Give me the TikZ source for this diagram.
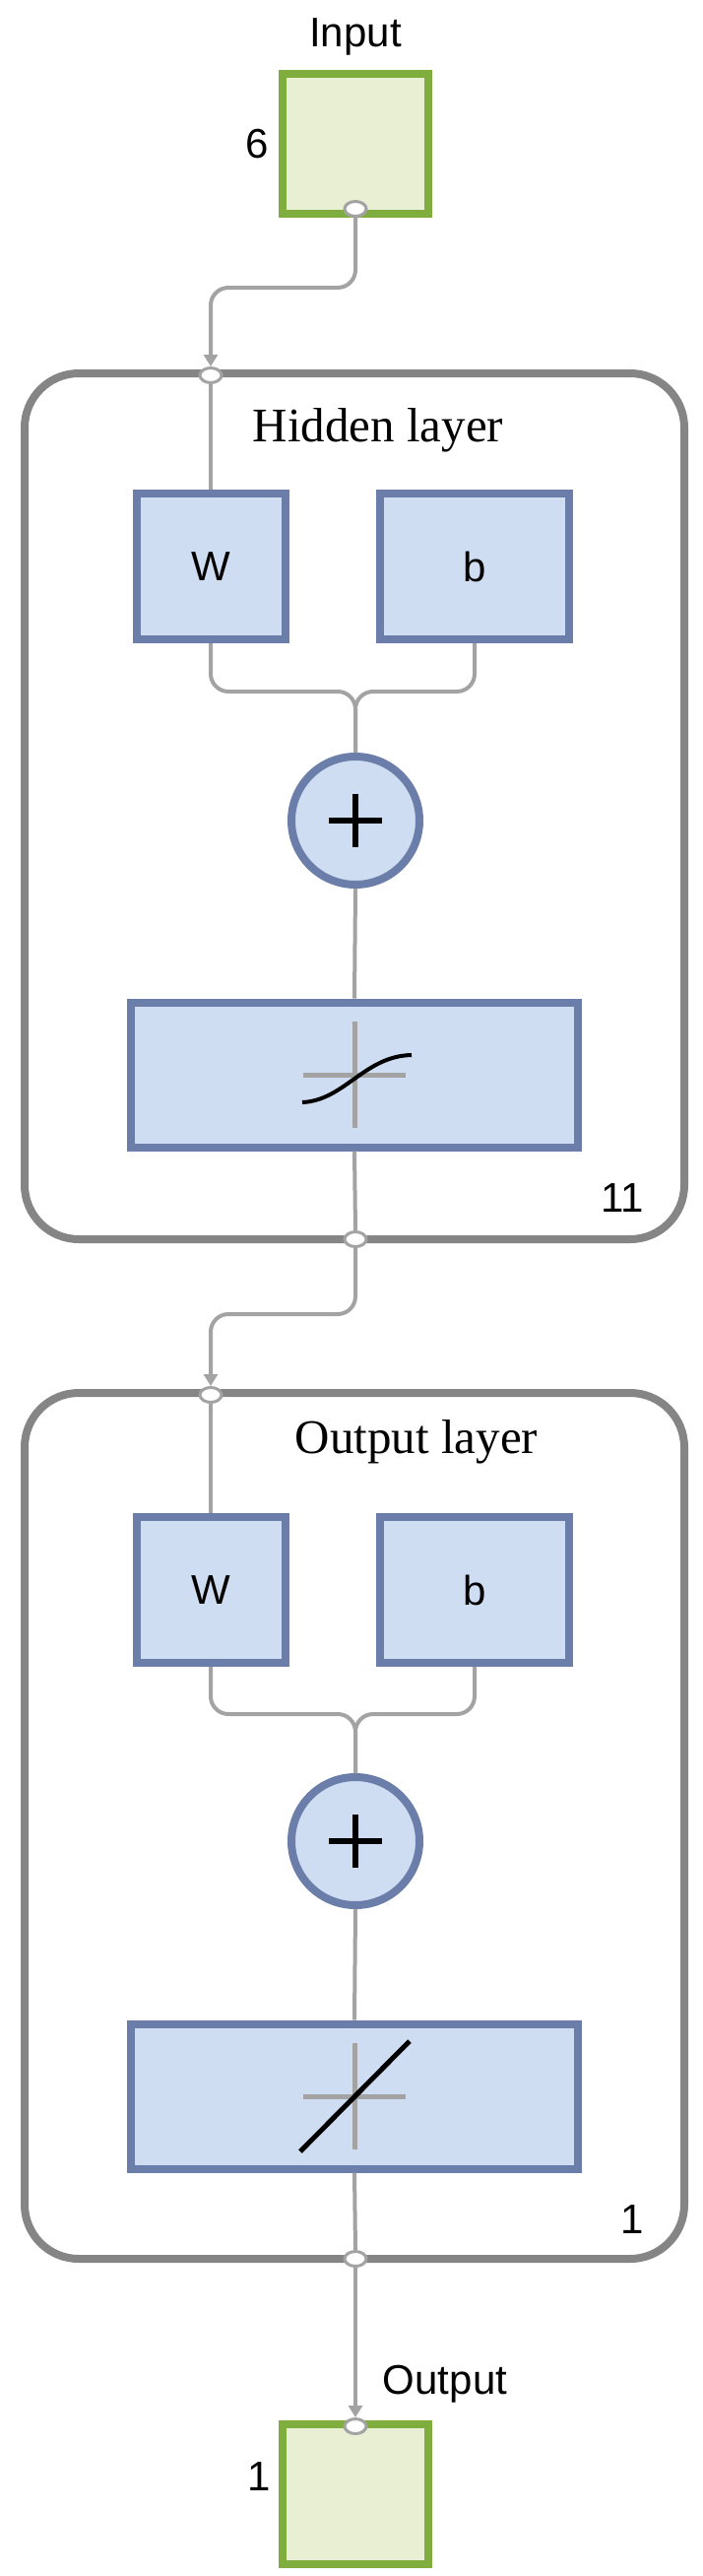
\documentclass[tikz,border=0pt]{standalone}
\usepackage{fontspec}
\setmainfont{Liberation Serif}
\newfontfamily\sansf{Liberation Sans}
\usetikzlibrary{arrows.meta,shapes.geometric}
\definecolor{gbord}{HTML}{7FAE3E}
\definecolor{gfill}{HTML}{E8EFD3}
\definecolor{bbord}{HTML}{6B7EAA}
\definecolor{bfill}{HTML}{CFDDF2}
\definecolor{lgray}{HTML}{858585}
\definecolor{cgray}{HTML}{A3A3A3}
\begin{document}
\begin{tikzpicture}[x=1pt,y=-1pt,
  iobox/.style={draw=gbord,fill=gfill,line width=8pt,minimum width=148pt,minimum height=142pt,inner sep=0},
  blk/.style={draw=bbord,fill=bfill,line width=8pt,inner sep=0},
  layer/.style={draw=lgray,line width=8pt,rounded corners=55pt},
  conn/.style={draw=cgray,line width=4pt,rounded corners=18pt},
  arr/.style={conn,-{Triangle[length=12pt,width=14pt,fill=cgray]}},
  port/.style={ellipse,draw=cgray,fill=white,line width=3pt,minimum width=22pt,minimum height=15pt,inner sep=0},
  lab/.style={font=\sansf\fontsize{42}{42}\selectfont},
  ttl/.style={font=\fontsize{49}{49}\selectfont}]
\useasboundingbox (0,0) rectangle (713,2615);
% input
\node[iobox] (in) at (361,146) {};
\node[lab] (inl) at (361,37) {Input};
\node[lab] (six) at (261,146) {6};
% hidden layer
\draw[layer] (25,379) rectangle (695,1258);
\node[ttl] (hl) at (384,437) {Hidden layer};
\node[blk,minimum width=151pt,minimum height=148pt] (w1) at (214,575) {};
\node[lab] at (w1) {W};
\node[blk,minimum width=192pt,minimum height=148pt] (b1) at (482,575) {};
\node[lab] at (b1) {b};
\node[blk,circle,minimum size=130pt] (s1) at (361,833) {};
\node[blk,minimum width=454pt,minimum height=147pt] (t1) at (360,1091) {};
\node[lab] (n11) at (632,1216) {11};
% output layer
\draw[layer] (25,1414) rectangle (695,2293);
\node[ttl] (ol) at (423,1464) {Output layer};
\node[blk,minimum width=151pt,minimum height=148pt] (w2) at (214,1614) {};
\node[lab] at (w2) {W};
\node[blk,minimum width=192pt,minimum height=148pt] (b2) at (482,1614) {};
\node[lab] at (b2) {b};
\node[blk,circle,minimum size=130pt] (s2) at (361,1869) {};
\node[blk,minimum width=454pt,minimum height=147pt] (t2) at (360,2128) {};
\node[lab] (n1) at (642,2253) {1};
% output
\node[iobox] (out) at (361,2532) {};
\node[lab] (outl) at (452,2420) {Output};
\node[lab] (one) at (263,2514) {1};
% ports
\node[port] (p0) at (361,212) {};
\node[port] (p1) at (214,381) {};
\node[port] (p2) at (361,1258) {};
\node[port] (p3) at (214,1416) {};
\node[port] (p4) at (361,2293) {};
\node[port] (p5) at (361,2463) {};
% connectors
\draw[arr] (p0.south) -- (361,292) -- (214,292) -- (p1.north);
\draw[conn] (p1.south) -- (w1.north);
\draw[conn] (w1.south) -- (214,702) -- (361,702) -- (s1.north);
\draw[conn] (b1.south) -- (482,702) -- (361,702) -- (s1.north);
\draw[conn,rounded corners=0] (s1.south) -- (t1.north);
\draw[conn,rounded corners=0] (t1.south) -- (p2.north);
\draw[arr] (p2.south) -- (361,1334) -- (214,1334) -- (p3.north);
\draw[conn] (p3.south) -- (w2.north);
\draw[conn] (w2.south) -- (214,1740) -- (361,1740) -- (s2.north);
\draw[conn] (b2.south) -- (482,1740) -- (361,1740) -- (s2.north);
\draw[conn,rounded corners=0] (s2.south) -- (t2.north);
\draw[conn,rounded corners=0] (t2.south) -- (p4.north);
\draw[arr,rounded corners=0] (p4.south) -- (p5.north);
% plus signs
\draw[line width=6pt] (s1.center) +(-27,0) -- +(27,0) (s1.center) +(0,-27) -- +(0,27);
\draw[line width=6pt] (s2.center) +(-27,0) -- +(27,0) (s2.center) +(0,-27) -- +(0,27);
% transfer glyphs
\draw[cgray,line width=5pt] (t1.center) +(-52,0) -- +(52,0) (t1.center) +(0,-54) -- +(0,54);
\draw[line width=4pt] (307,1119) .. controls (350,1117) and (370,1072) .. (418,1071);
\draw[cgray,line width=5pt] (t2.center) +(-52,0) -- +(52,0) (t2.center) +(0,-54) -- +(0,54);
\draw[line width=5pt] (305,2184) -- (416,2072);
\end{tikzpicture}
\end{document}
